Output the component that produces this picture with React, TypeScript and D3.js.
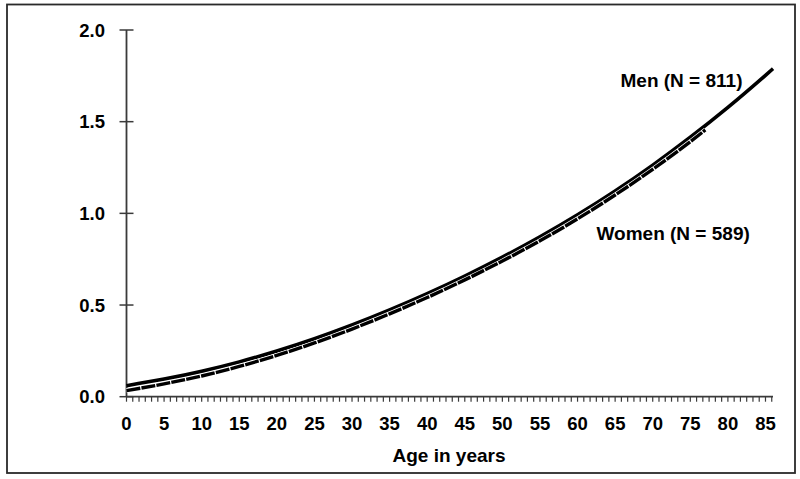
import React from "react";
import * as d3 from "d3";

const menAges = [0, 5, 10, 15, 20, 25, 30, 35, 40, 45, 50, 55, 60, 65, 70, 75, 80, 85, 86];
const menValues = [0.06, 0.096, 0.139, 0.19, 0.249, 0.316, 0.391, 0.473, 0.562, 0.658, 0.761, 0.872, 0.992, 1.122, 1.263, 1.415, 1.578, 1.753, 1.789];
const womenAges = [0, 5, 10, 15, 20, 25, 30, 35, 40, 45, 50, 55, 60, 65, 70, 75, 77];
const womenValues = [0.033, 0.07, 0.113, 0.165, 0.225, 0.293, 0.369, 0.452, 0.541, 0.637, 0.74, 0.85, 0.97, 1.1, 1.24, 1.391, 1.455];
const xTickLabels = [0, 5, 10, 15, 20, 25, 30, 35, 40, 45, 50, 55, 60, 65, 70, 75, 80, 85];
const yTickLabels = [0, 0.5, 1.0, 1.5, 2.0];
const menLabel = "Men (N = 811)";
const womenLabel = "Women (N = 589)";
const xTitle = "Age in years";

export default function App() {
  const W = 800, H = 479;
  const x = d3.scaleLinear().domain([0, 86]).range([126.5, 773]);
  const y = d3.scaleLinear().domain([0, 2]).range([396.7, 30]);
  const line = d3
    .line<[number, number]>()
    .x((d) => x(d[0]))
    .y((d) => y(d[1]))
    .curve(d3.curveMonotoneX);
  const menPts: [number, number][] = menAges.map((a, i) => [a, menValues[i]]);
  const womenPts: [number, number][] = womenAges.map((a, i) => [a, womenValues[i]]);
  const minorTicks = d3.range(0, 86.01, 5 / 6);
  const font = "'Liberation Sans', Arial, sans-serif";
  const axisColor = "#3a3a3a";
  return (
    <svg
      width={W}
      height={H}
      style={{ position: "absolute", left: 0, top: 0, background: "#fff" }}
      fontFamily={font}
    >
      <rect x={0} y={0} width={W} height={H} fill="#fff" />
      <rect x={7} y={4.5} width={788} height={468.5} fill="none" stroke="#2a2a2a" strokeWidth={1.8} />
      <line x1={x(0)} x2={x(0)} y1={y(2)} y2={y(0)} stroke={axisColor} strokeWidth={1.8} />
      {yTickLabels.map((v) => (
        <g key={"y" + v}>
          <line x1={x(0) - 7} x2={x(0) + 7} y1={y(v)} y2={y(v)} stroke={axisColor} strokeWidth={1.5} />
          <text x={105} y={y(v)} dy="0.36em" textAnchor="end" fontSize={18.5} fontWeight="bold" fill="#000">
            {v.toFixed(1)}
          </text>
        </g>
      ))}
      <line x1={x(0)} x2={x(86)} y1={y(0)} y2={y(0)} stroke={axisColor} strokeWidth={1.8} />
      {minorTicks.map((t, i) => (
        <line key={"m" + i} x1={x(t)} x2={x(t)} y1={y(0)} y2={y(0) + 5} stroke={axisColor} strokeWidth={1.2} />
      ))}
      {xTickLabels.map((t) => (
        <text key={"x" + t} x={x(t)} y={430} textAnchor="middle" fontSize={18.5} fontWeight="bold" fill="#000">
          {t}
        </text>
      ))}
      <text x={449} y={462} textAnchor="middle" fontSize={19} fontWeight="bold" fill="#000">
        {xTitle}
      </text>
      <path d={line(menPts) || ""} fill="none" stroke="#000" strokeWidth={3.6} />
      <path d={line(womenPts) || ""} fill="none" stroke="#fff" strokeWidth={4.8} />
      <path d={line(womenPts) || ""} fill="none" stroke="#000" strokeWidth={3.4} strokeDasharray="14,1.2" />
      <text x={620.5} y={87} fontSize={19} fontWeight="bold" fill="#000">
        {menLabel}
      </text>
      <text x={596.5} y={240} fontSize={19} fontWeight="bold" fill="#000">
        {womenLabel}
      </text>
    </svg>
  );
}
